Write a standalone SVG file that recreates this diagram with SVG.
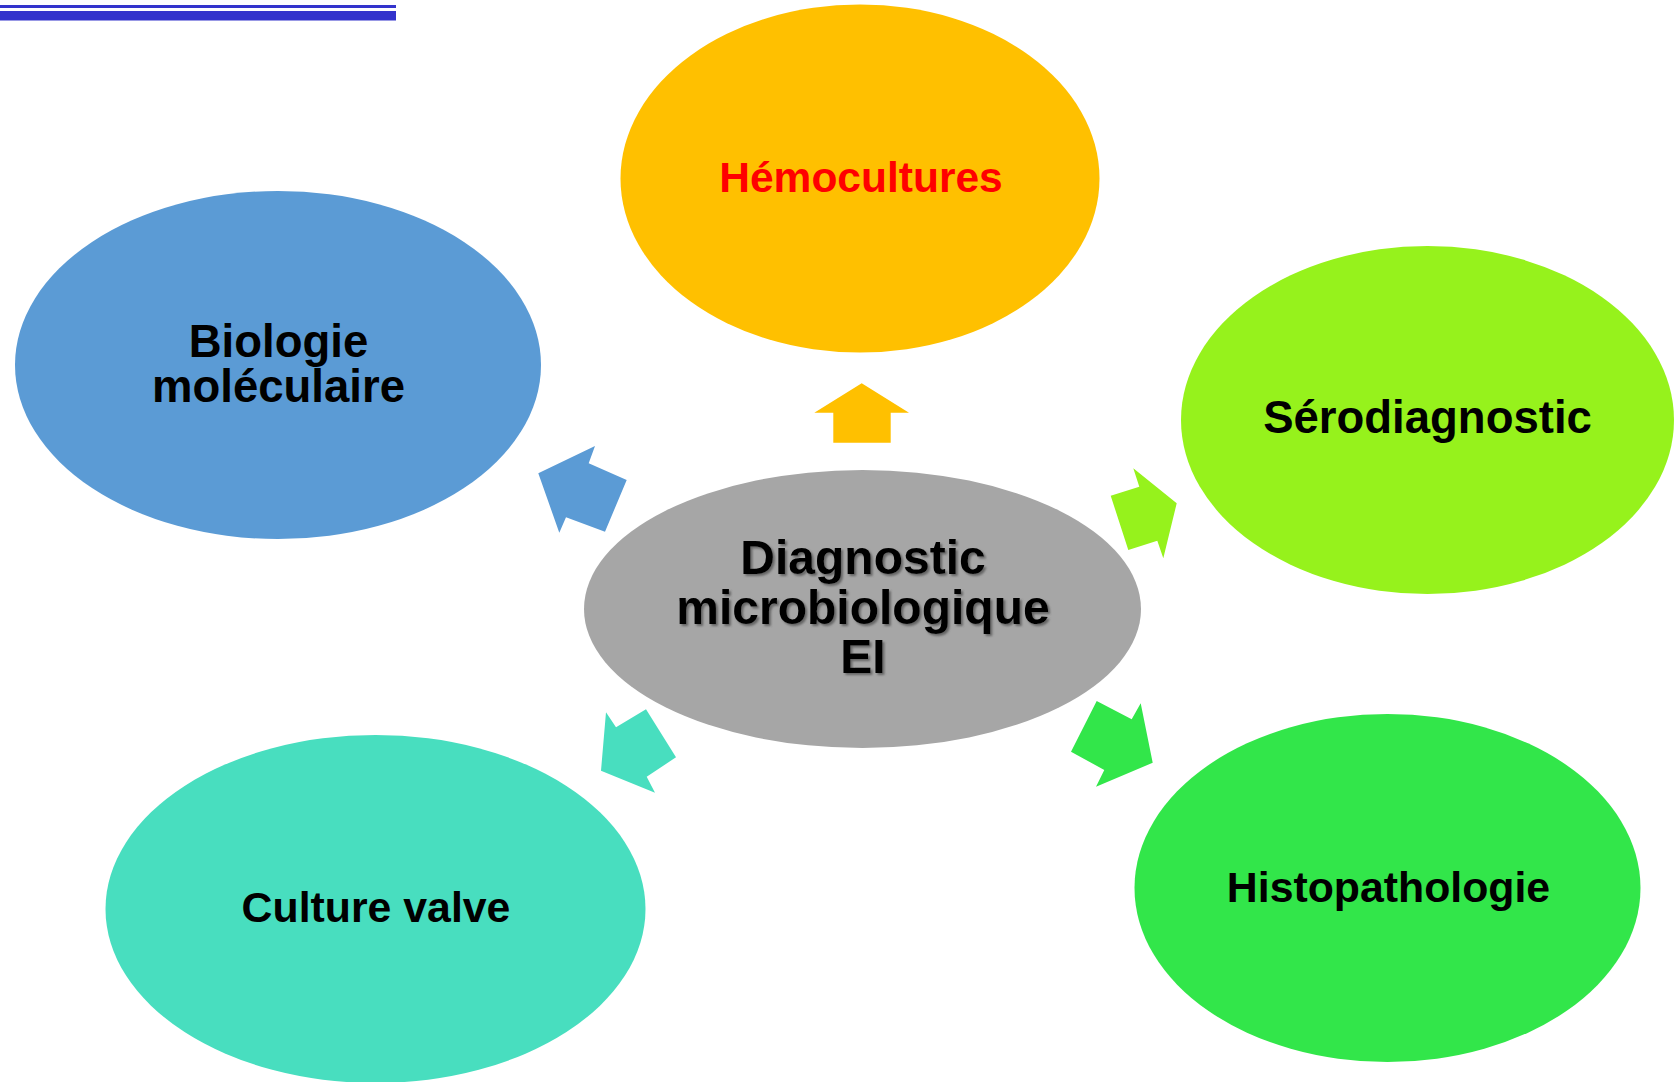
<svg xmlns="http://www.w3.org/2000/svg" width="1675" height="1082" viewBox="0 0 1675 1082">
<style>
  text { font-family: "Liberation Sans", Arial, sans-serif; font-weight: bold; text-anchor: middle; fill: #000; }
  .red { fill: #FF0000; }
</style>
<defs>
  <filter id="shadow" x="-10%" y="-10%" width="130%" height="130%">
    <feDropShadow dx="2" dy="2" stdDeviation="1" flood-color="#555" flood-opacity="0.8"/>
  </filter>
</defs>
<rect width="1675" height="1082" fill="#fff"/>
<g id="header-bar">
  <rect x="0" y="5" width="396" height="3" fill="#3333CC"/>
  <rect x="0" y="11" width="396" height="9.5" fill="#3333CC"/>
</g>
<g id="connectors">
  <polygon points="861.7,383.3 909,412.7 890.7,412.7 890.7,442.7 833.3,442.7 833.3,412.7 814.3,412.7" fill="#FFC000"/>
  <polygon points="538.3,473.3 595,446 588.7,463.3 626.7,480 605,531.7 566,517.3 559.3,532.7" fill="#5B9BD5"/>
  <polygon points="1133.3,468.3 1176.7,503.3 1163.3,558.3 1157.3,540.7 1128.3,550 1110.7,495.7 1139.3,486.7" fill="#96F21C"/>
  <polygon points="606,712.3 616,727.3 646,709.3 676,757.3 646.7,776.7 655,792.7 601,770.7" fill="#48DEBF"/>
  <polygon points="1096.7,701 1131.7,719.3 1140.7,703.3 1152.7,762.7 1096,786.7 1104.3,770 1071,751.7" fill="#32E64A"/>
</g>
<g id="node-hemocultures">
  <ellipse cx="860" cy="178.5" rx="239.5" ry="174" fill="#FFC000"/>
  <text x="861" y="192" font-size="42.5" class="red">Hémocultures</text>
</g>
<g id="node-biologie">
  <ellipse cx="278" cy="365" rx="263" ry="174" fill="#5B9BD5"/>
  <text x="278.5" y="356.5" font-size="45.5">Biologie</text>
  <text x="278.5" y="402" font-size="45.5">moléculaire</text>
</g>
<g id="node-serodiagnostic">
  <ellipse cx="1427.5" cy="420" rx="246.5" ry="174" fill="#96F21C"/>
  <text x="1427.5" y="433" font-size="45.5">Sérodiagnostic</text>
</g>
<g id="node-center">
  <ellipse cx="862.5" cy="609" rx="278.5" ry="139" fill="#A6A6A6"/>
  <g filter="url(#shadow)">
    <text x="863" y="574" font-size="48">Diagnostic</text>
    <text x="863" y="623.5" font-size="48">microbiologique</text>
    <text x="863" y="673" font-size="48">EI</text>
  </g>
</g>
<g id="node-culture-valve">
  <ellipse cx="375.5" cy="909" rx="270" ry="174" fill="#48DEBF"/>
  <text x="376" y="922" font-size="42.8">Culture valve</text>
</g>
<g id="node-histopathologie">
  <ellipse cx="1387.5" cy="888" rx="253" ry="174" fill="#32E64A"/>
  <text x="1388.5" y="901.5" font-size="42.8">Histopathologie</text>
</g>
</svg>
